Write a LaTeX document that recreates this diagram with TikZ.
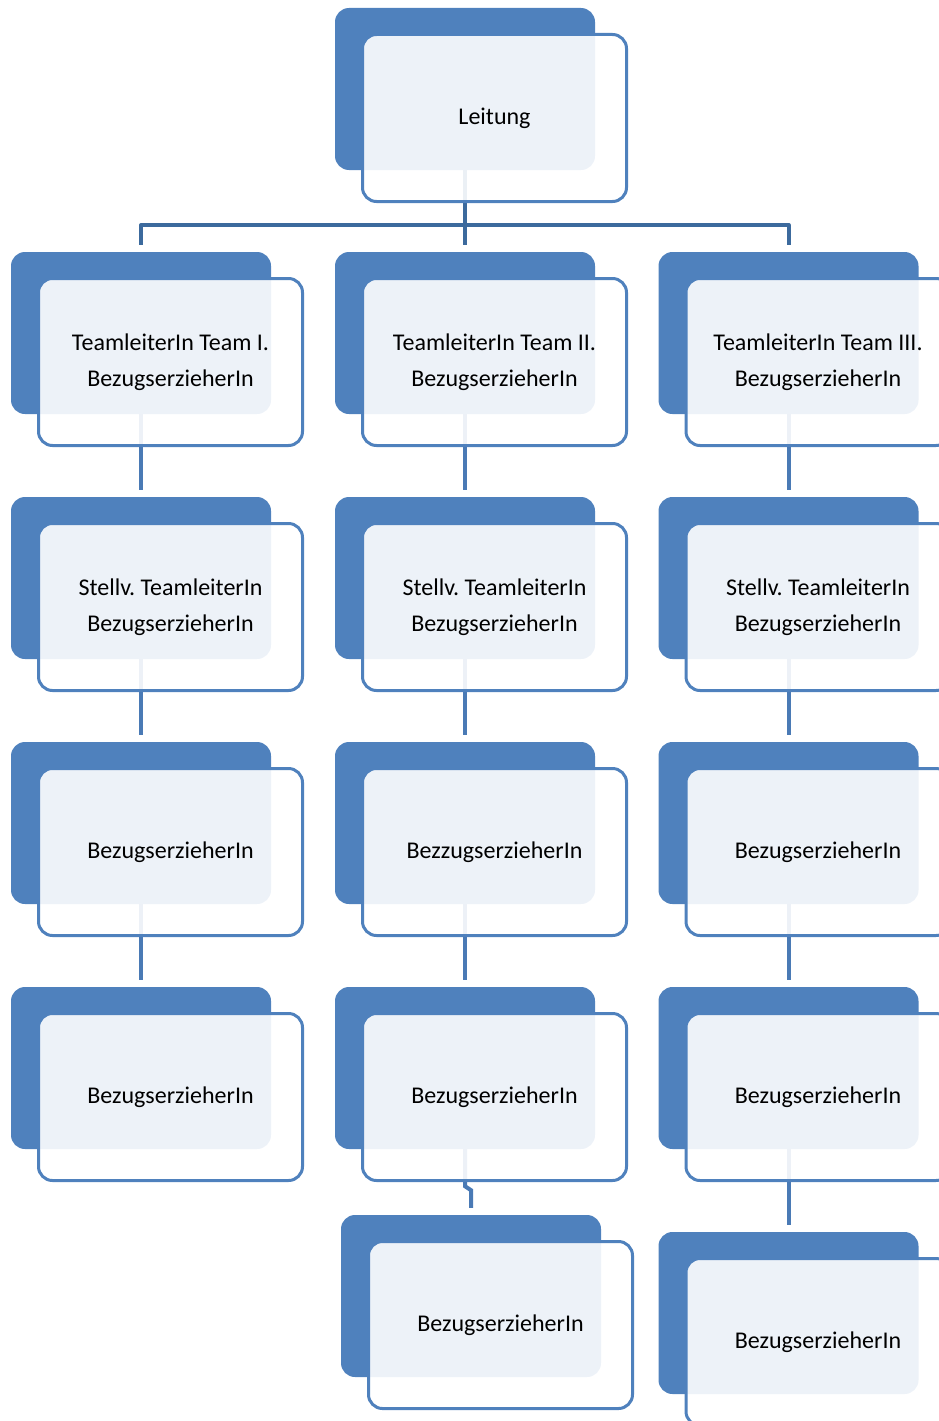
\documentclass[tikz,border=0pt]{standalone}
\usepackage{fontspec}
\setmainfont{Carlito}
\usepackage{tikz}
\definecolor{orgblue}{HTML}{4F81BD}
\definecolor{linkblue}{HTML}{4A7AB5}
\definecolor{busblue}{HTML}{3C6A9D}
\def\boxfont{\frenchspacing\fontsize{24}{36}\selectfont}

\begin{document}
\begin{tikzpicture}[x=1pt,y=-1pt,
    backbox/.style={rectangle,rounded corners=14pt,fill=orgblue,minimum width=260pt,minimum height=162pt,inner sep=0pt},
    frontbox/.style={rectangle,rounded corners=14pt,draw=orgblue,line width=3pt,fill=white,fill opacity=0.9,text opacity=1,
                     minimum width=264pt,minimum height=167pt,inner sep=0pt,align=center,font=\boxfont,xshift=29.5pt,yshift=-29pt},
    link/.style={draw=linkblue,line width=4pt,shorten >=7pt},
    bus/.style={draw=busblue,line width=4pt,line join=round}]
  \useasboundingbox (0,0) rectangle (939,1421);
  \clip (0,0) rectangle (939,1421);
  % back boxes
  \node[backbox] (lb) at (465,89) {};
  \foreach \c/\x in {1/141,2/465,3/788.5}
    \foreach \r/\y in {1/333,2/578,3/823,4/1068}
      \node[backbox] (b\r\c) at (\x,\y) {};
  \node[backbox] (b52) at (471,1296) {};
  \node[backbox] (b53) at (788.5,1313) {};
  % connectors
  \coordinate (busmid) at (465,225);
  \draw[bus] ([yshift=7pt]b11.north) |- (busmid) -| ([yshift=7pt]b13.north);
  \draw[bus] (lb.south) -- ([yshift=7pt]b12.north);
  \foreach \c in {1,2,3}{
    \draw[link] (b1\c.south) -- (b2\c.north);
    \draw[link] (b2\c.south) -- (b3\c.north);
    \draw[link] (b3\c.south) -- (b4\c.north);
  }
  \draw[link] (b42.south) -- ++(0,37) -- ++(6,4) -- (b52.north);
  \draw[link] (b43.south) -- (b53.north);
  % front boxes
  \node[frontbox] (lf) at (lb) {Leitung};
  \node[frontbox] (f11) at (b11) {TeamleiterIn Team I.\\BezugserzieherIn};
  \node[frontbox] (f12) at (b12) {TeamleiterIn Team II.\\BezugserzieherIn};
  \node[frontbox] (f13) at (b13) {TeamleiterIn Team III.\\BezugserzieherIn};
  \foreach \c in {1,2,3}
    \node[frontbox] (f2\c) at (b2\c) {Stellv. TeamleiterIn\\BezugserzieherIn};
  \node[frontbox] (f31) at (b31) {BezugserzieherIn};
  \node[frontbox] (f32) at (b32) {BezzugserzieherIn};
  \node[frontbox] (f33) at (b33) {BezugserzieherIn};
  \foreach \c in {1,2,3}
    \node[frontbox] (f4\c) at (b4\c) {BezugserzieherIn};
  \node[frontbox] (f52) at (b52) {BezugserzieherIn};
  \node[frontbox] (f53) at (b53) {BezugserzieherIn};
\end{tikzpicture}
\end{document}
